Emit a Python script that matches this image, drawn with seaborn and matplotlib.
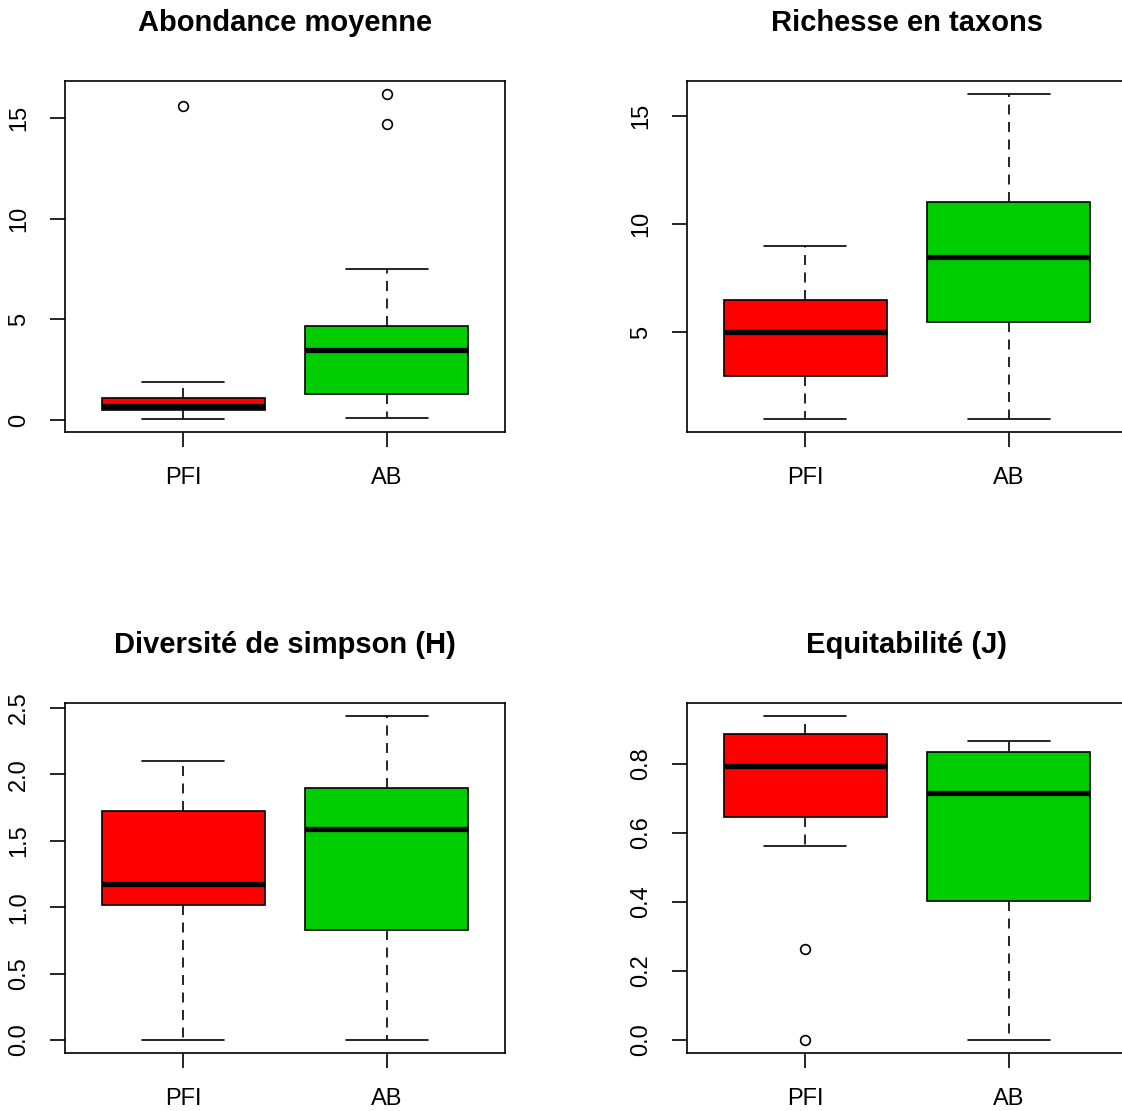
import numpy as np
import pandas as pd
import matplotlib
matplotlib.use('Agg')
import matplotlib.pyplot as plt
import seaborn as sns

sns.set_style('ticks')
plt.rcParams['font.family'] = ['Liberation Sans', 'DejaVu Sans']

groups = ['PFI', 'AB']
colors = ['#FF0000', '#00CD00']

# values (one list per group and panel)
abond_pfi = [0.05, 0.2, 0.35, 0.5, 0.55, 0.6, 0.7, 0.8, 0.95, 1.1, 1.3, 1.9, 15.6]
abond_ab = [0.1, 0.7, 1.0, 1.3, 2.2, 3.0, 3.48, 3.9, 4.3, 4.65, 7.5, 14.7, 16.2]

rich_pfi = [1, 2, 3, 4, 5, 6, 6.5, 8, 9]
rich_ab = [1, 3, 5.5, 7, 8.5, 10, 11, 14, 16]

simp_pfi = [0.0, 0.6, 1.015, 1.1, 1.175, 1.4, 1.725, 1.9, 2.1]
simp_ab = [0.0, 0.4, 0.825, 1.2, 1.59, 1.7, 1.9, 2.2, 2.44]

equit_pfi = [0.0, 0.264, 0.561, 0.646, 0.68, 0.75, 0.795, 0.82, 0.85, 0.887, 0.9, 0.92, 0.939]
equit_ab = [0.0, 0.2, 0.404, 0.6, 0.715, 0.78, 0.834, 0.85, 0.867]

titles = ['Abondance moyenne', 'Richesse en taxons',
          'Diversité de simpson (H)', 'Equitabilité (J)']
yticks = [[0, 5, 10, 15], [5, 10, 15],
          [0.0, 0.5, 1.0, 1.5, 2.0, 2.5], [0.0, 0.2, 0.4, 0.6, 0.8]]
yticklabels = [['0', '5', '10', '15'], ['5', '10', '15'],
               ['0.0', '0.5', '1.0', '1.5', '2.0', '2.5'],
               ['0.0', '0.2', '0.4', '0.6', '0.8']]
panels = [(abond_pfi, abond_ab), (rich_pfi, rich_ab),
          (simp_pfi, simp_ab), (equit_pfi, equit_ab)]

W, H = 1122, 1111
fig = plt.figure(figsize=(W / 100, H / 100), dpi=100)
rects = [(65, 81, 440, 351), (687, 81, 440, 351),
         (65, 703, 440, 350), (687, 703, 440, 350)]

for i, (pfi, ab) in enumerate(panels):
    l, t, w, h = rects[i]
    ax = fig.add_axes([l / W, 1 - (t + h) / H, w / W, h / H])
    df = pd.DataFrame({'groupe': ['PFI'] * len(pfi) + ['AB'] * len(ab),
                       'valeur': pfi + ab})
    sns.boxplot(data=df, x='groupe', y='valeur', hue='groupe', order=groups,
                hue_order=groups, palette=colors, legend=False, ax=ax,
                width=0.8, linecolor='black', linewidth=1.2, saturation=1,
                whis=1.5,
                whiskerprops=dict(linestyle=(0, (6, 4.5)), color='black'),
                capprops=dict(color='black'),
                medianprops=dict(linewidth=3.8, color='black', solid_capstyle='butt'),
                flierprops=dict(marker='o', markerfacecolor='none',
                                markeredgecolor='black', markersize=7,
                                markeredgewidth=1.2))
    # caps half the box width, as in R
    for line in ax.lines:
        xd = np.asarray(line.get_xdata(), dtype=float)
        yd = np.asarray(line.get_ydata(), dtype=float)
        if len(xd) == 2 and yd[0] == yd[1] and line.get_linestyle() == '-' and line.get_linewidth() < 2:
            c = xd.mean()
            line.set_xdata([c - 0.2, c + 0.2])
    ax.set_xlim(-0.58, 1.58)
    ax.margins(y=0.04)
    ax.set_yticks(yticks[i])
    ax.set_yticklabels(yticklabels[i])
    ax.set_xlabel('')
    ax.set_ylabel('')
    ax.tick_params(axis='both', length=11, width=1.2, pad=14, labelsize=17,
                   colors='black')
    ax.tick_params(axis='y', labelrotation=90)
    for lab in ax.get_yticklabels():
        lab.set_va('center')
    for sp in ax.spines.values():
        sp.set_visible(True)
        sp.set_linewidth(1.2)
        sp.set_color('black')
    ax.set_title(titles[i], fontsize=21, fontweight='bold', pad=36, color='black')

fig.savefig('out.png', dpi=100, facecolor='white')
